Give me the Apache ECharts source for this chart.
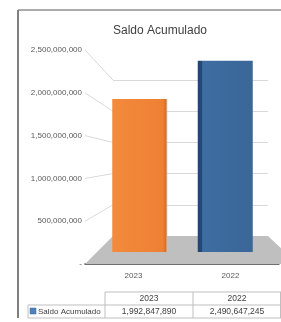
<!DOCTYPE html>
<html>
<head>
<meta charset="utf-8">
<script src="https://cdn.jsdelivr.net/npm/echarts@6/dist/echarts.min.js"></script>
<style>
  html, body { margin: 0; padding: 0; background: #fff; }
  #main { width: 281px; height: 322px; }
</style>
</head>
<body>
<div id="main"></div>
<script>
// datos
var categories = ['2023', '2022'];
var saldo = [1992847890, 2490647245];
var barColors = ['#F08436', '#3B6A9E'];
var yTicks = [0, 500000000, 1000000000, 1500000000, 2000000000, 2500000000];
var seriesName = 'Saldo Acumulado';

var FONT = '"Liberation Sans", Arial, sans-serif';

function fmt(v) {
    return v === 0 ? '-' : v.toLocaleString('en-US');
}

var chart = echarts.init(document.getElementById('main'));

var yMin = yTicks[0], yMax = yTicks[yTicks.length - 1], yStep = yTicks[1] - yTicks[0];

var option = {
    animation: false,
    title: {
        text: seriesName,
        left: 155,
        top: 20,
        textAlign: 'center',
        textStyle: { fontFamily: FONT, fontSize: 12, fontWeight: 'normal', color: '#404040' }
    },
    grid: [
        // eje frontal (etiquetas)
        { left: 85, top: 50, width: 194, height: 214 },
        // pared del fondo
        { left: 113, top: 80, width: 155, height: 156 },
        // barras
        { left: 97, top: 60, width: 171, height: 192 }
    ],
    xAxis: [
        {
            gridIndex: 0, type: 'category', data: categories,
            axisLine: { lineStyle: { color: '#404040', width: 1.5 } },
            axisTick: { show: false },
            axisLabel: { margin: 8, fontFamily: FONT, fontSize: 8, color: '#595959' }
        },
        { gridIndex: 1, type: 'category', data: categories, show: false },
        { gridIndex: 2, type: 'category', data: categories, show: false }
    ],
    yAxis: [
        {
            gridIndex: 0, type: 'value', min: yMin, max: yMax, interval: yStep,
            axisLine: { show: false }, axisTick: { show: false }, splitLine: { show: false },
            axisLabel: { margin: 3, fontFamily: FONT, fontSize: 8, color: '#595959', formatter: fmt }
        },
        {
            gridIndex: 1, type: 'value', min: yMin, max: yMax, interval: yStep,
            axisLine: { show: false }, axisTick: { show: false }, axisLabel: { show: false },
            splitLine: { lineStyle: { color: '#d9d9d9', width: 1 } }
        },
        {
            gridIndex: 2, type: 'value', min: yMin, max: yMax, show: false,
            splitLine: { show: false }
        }
    ],
    series: [{
        name: seriesName,
        type: 'bar',
        xAxisIndex: 2,
        yAxisIndex: 2,
        barWidth: 55,
        z: 3,
        data: saldo.map(function (v, i) {
            var color = i === 0
                ? new echarts.graphic.LinearGradient(0, 0, 1, 0, [
                    { offset: 0, color: '#F38A3C' },
                    { offset: 0.92, color: '#EE8034' },
                    { offset: 0.97, color: '#D9712A' },
                    { offset: 1, color: '#c9c0b8' }
                ])
                : new echarts.graphic.LinearGradient(0, 0, 1, 0, [
                    { offset: 0, color: '#1F4472' },
                    { offset: 0.07, color: '#24497a' },
                    { offset: 0.09, color: '#3E6DA1' },
                    { offset: 1, color: '#3A6698' }
                ]);
            return { value: v, itemStyle: { color: color } };
        })
    }]
};

chart.setOption(option);

// perspectiva: diagonales, suelo y tabla de datos
var frontX = 85, backL = 113, backR = 268;
var g = [];
yTicks.forEach(function (v) {
    var yf = chart.convertToPixel({ yAxisIndex: 0 }, v);
    var yb = chart.convertToPixel({ yAxisIndex: 1 }, v);
    if (v !== 0) {
        g.push({
            type: 'line', z: 0,
            shape: { x1: frontX, y1: yf, x2: backL, y2: yb },
            style: { stroke: '#d9d9d9', lineWidth: 1 }
        });
    }
});
var yf0 = chart.convertToPixel({ yAxisIndex: 0 }, 0);
var yb0 = chart.convertToPixel({ yAxisIndex: 1 }, 0);
g.push({
    type: 'polygon', z: 1,
    shape: { points: [[frontX, yf0], [backL, yb0], [backR, yb0], [backR + (backL - frontX) + 2, yf0]] },
    style: { fill: '#bfbfbf' }
});

// borde del gráfico
g.push({ type: 'line', z: 5, shape: { x1: 18, y1: 10, x2: 281, y2: 10 }, style: { stroke: '#595959', lineWidth: 1 } });
g.push({ type: 'line', z: 5, shape: { x1: 18, y1: 10, x2: 18, y2: 318 }, style: { stroke: '#7f7f7f', lineWidth: 2 } });

// tabla
var tTop = 292, tMid = 305, tBot = 318, c0 = 28, c1 = 105, c2 = 193, c3 = 281;
var lc = '#bfbfbf';
[[c1, tTop, c3, tTop], [c0, tMid, c3, tMid], [c0, tBot, c3, tBot],
 [c0, tMid, c0, tBot], [c1, tTop, c1, tBot], [c2, tTop, c2, tBot], [c3 - 0.5, tTop, c3 - 0.5, tBot]
].forEach(function (l) {
    g.push({ type: 'line', z: 5, shape: { x1: l[0], y1: l[1], x2: l[2], y2: l[3] }, style: { stroke: lc, lineWidth: 1 } });
});
var cols = [(c1 + c2) / 2, (c2 + c3) / 2];
categories.forEach(function (c, i) {
    g.push({ type: 'text', z: 5, style: { text: c, x: cols[i], y: (tTop + tMid) / 2 + 0.5, align: 'center', verticalAlign: 'middle', font: '8.5px ' + FONT, fill: '#404040' } });
    g.push({ type: 'text', z: 5, style: { text: saldo[i].toLocaleString('en-US'), x: cols[i], y: (tMid + tBot) / 2 + 0.5, align: 'center', verticalAlign: 'middle', font: '8.5px ' + FONT, fill: '#404040' } });
});
g.push({ type: 'rect', z: 5, shape: { x: 30, y: 308, width: 6, height: 6 }, style: { fill: '#4F81BD', stroke: '#3B6A9E', lineWidth: 0.5 } });
g.push({ type: 'text', z: 5, style: { text: seriesName, x: 38, y: (tMid + tBot) / 2 + 0.5, align: 'left', verticalAlign: 'middle', font: '8px ' + FONT, fill: '#404040' } });

chart.setOption({ graphic: g });
</script>
</body>
</html>
